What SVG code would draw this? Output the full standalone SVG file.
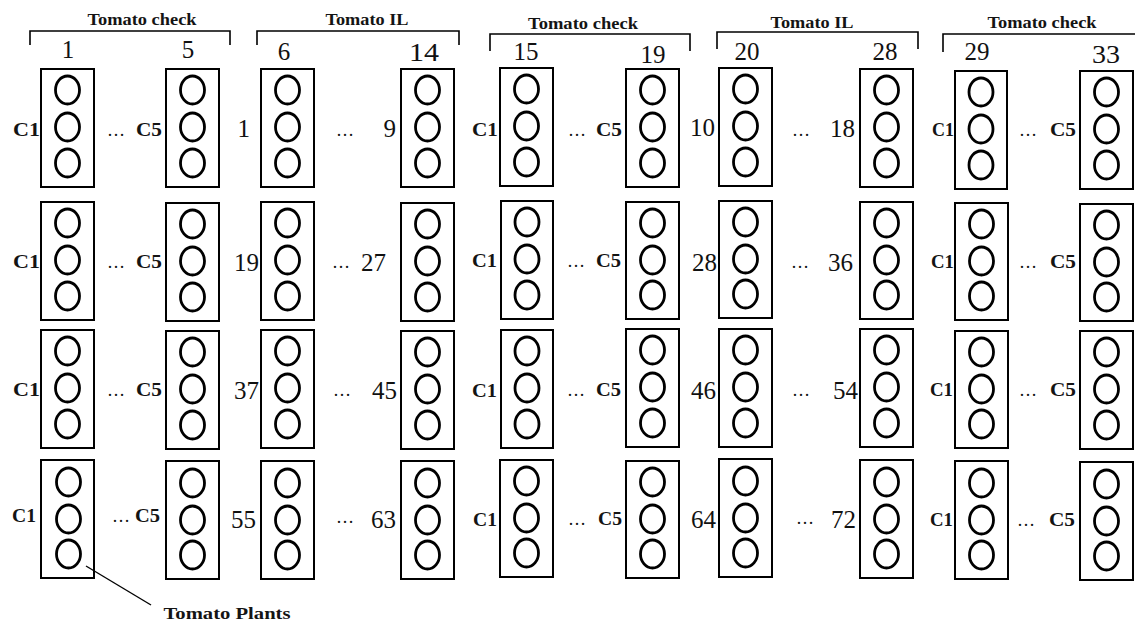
<svg xmlns="http://www.w3.org/2000/svg" width="1135" height="621" viewBox="0 0 1135 621">
<style>
.box{fill:none;stroke:#000;stroke-width:2}
.pl{fill:none;stroke:#000;stroke-width:2.8}
.br{fill:none;stroke:#000;stroke-width:1.6}
.ld{fill:none;stroke:#000;stroke-width:1.4}
.hd{font-family:"Liberation Serif","Times New Roman",serif;font-weight:bold;font-size:16px;fill:#141414;text-anchor:middle}
.hn{font-family:"Liberation Serif","Times New Roman",serif;font-size:25px;fill:#111;text-anchor:middle}
.cl{font-family:"Liberation Serif","Times New Roman",serif;font-weight:bold;font-size:18px;fill:#141414;text-anchor:end}
.rn{font-family:"Liberation Serif","Times New Roman",serif;font-size:25px;fill:#111;text-anchor:end}
.dt{font-family:"Liberation Serif","Times New Roman",serif;font-size:18px;fill:#111;text-anchor:middle}
</style>
<rect width="1135" height="621" fill="#fff"/>
<g id="headers">
<path class="br" d="M30,45V31H230V45"/>
<path class="br" d="M257,45V31H459V45"/>
<path class="br" d="M490,51V34H690V51"/>
<path class="br" d="M717,49V32H918V49"/>
<path class="br" d="M943,52V34H1135"/>
<text class="hd" x="142" y="25" textLength="109" lengthAdjust="spacingAndGlyphs">Tomato check</text>
<text class="hd" x="367" y="25" textLength="83" lengthAdjust="spacingAndGlyphs">Tomato IL</text>
<text class="hd" x="583" y="29" textLength="110" lengthAdjust="spacingAndGlyphs">Tomato check</text>
<text class="hd" x="812" y="28" textLength="83" lengthAdjust="spacingAndGlyphs">Tomato IL</text>
<text class="hd" x="1042" y="28" textLength="109" lengthAdjust="spacingAndGlyphs">Tomato check</text>
<text class="hn" x="68" y="58">1</text>
<text class="hn" x="188" y="58">5</text>
<text class="hn" x="284" y="60">6</text>
<text class="hn" x="424" y="61" textLength="30" lengthAdjust="spacingAndGlyphs">14</text>
<text class="hn" x="526" y="60">15</text>
<text class="hn" x="653" y="63">19</text>
<text class="hn" x="747" y="60">20</text>
<text class="hn" x="885" y="60">28</text>
<text class="hn" x="977" y="60">29</text>
<text class="hn" x="1106" y="63" textLength="28" lengthAdjust="spacingAndGlyphs">33</text>
</g>
<g id="row-labels">
<!-- row 1 -->
<text class="cl" x="40" y="136" textLength="27" lengthAdjust="spacingAndGlyphs">C1</text>
<text class="dt" x="116" y="136">…</text>
<text class="cl" x="162" y="136" textLength="26" lengthAdjust="spacingAndGlyphs">C5</text>
<text class="rn" x="250" y="137">1</text>
<text class="dt" x="345" y="136">…</text>
<text class="rn" x="396" y="137">9</text>
<text class="cl" x="498" y="136" textLength="26" lengthAdjust="spacingAndGlyphs">C1</text>
<text class="dt" x="577" y="136">…</text>
<text class="cl" x="622" y="136" textLength="26" lengthAdjust="spacingAndGlyphs">C5</text>
<text class="rn" x="715" y="136">10</text>
<text class="dt" x="801" y="136">…</text>
<text class="rn" x="855" y="137">18</text>
<text class="cl" x="954" y="136" textLength="22" lengthAdjust="spacingAndGlyphs">C1</text>
<text class="dt" x="1028" y="136">…</text>
<text class="cl" x="1076" y="136" textLength="26" lengthAdjust="spacingAndGlyphs">C5</text>
<!-- row 2 -->
<text class="cl" x="40" y="268" textLength="27" lengthAdjust="spacingAndGlyphs">C1</text>
<text class="dt" x="116" y="268">…</text>
<text class="cl" x="162" y="268" textLength="26" lengthAdjust="spacingAndGlyphs">C5</text>
<text class="rn" x="259" y="271">19</text>
<text class="dt" x="341" y="268">…</text>
<text class="rn" x="386" y="271">27</text>
<text class="cl" x="497" y="267" textLength="25" lengthAdjust="spacingAndGlyphs">C1</text>
<text class="dt" x="576" y="267">…</text>
<text class="cl" x="621" y="267" textLength="25" lengthAdjust="spacingAndGlyphs">C5</text>
<text class="rn" x="717" y="271">28</text>
<text class="dt" x="800" y="268">…</text>
<text class="rn" x="853" y="271">36</text>
<text class="cl" x="954" y="268" textLength="23" lengthAdjust="spacingAndGlyphs">C1</text>
<text class="dt" x="1028" y="268">…</text>
<text class="cl" x="1076" y="268" textLength="26" lengthAdjust="spacingAndGlyphs">C5</text>
<!-- row 3 -->
<text class="cl" x="40" y="396" textLength="27" lengthAdjust="spacingAndGlyphs">C1</text>
<text class="dt" x="116" y="396">…</text>
<text class="cl" x="162" y="396" textLength="26" lengthAdjust="spacingAndGlyphs">C5</text>
<text class="rn" x="259" y="399">37</text>
<text class="dt" x="342" y="396">…</text>
<text class="rn" x="397" y="399">45</text>
<text class="cl" x="497" y="397" textLength="25" lengthAdjust="spacingAndGlyphs">C1</text>
<text class="dt" x="576" y="396">…</text>
<text class="cl" x="621" y="396" textLength="25" lengthAdjust="spacingAndGlyphs">C5</text>
<text class="rn" x="716" y="399">46</text>
<text class="dt" x="801" y="396">…</text>
<text class="rn" x="858" y="399">54</text>
<text class="cl" x="953" y="396" textLength="23" lengthAdjust="spacingAndGlyphs">C1</text>
<text class="dt" x="1028" y="396">…</text>
<text class="cl" x="1076" y="396" textLength="26" lengthAdjust="spacingAndGlyphs">C5</text>
<!-- row 4 -->
<text class="cl" x="36" y="522" textLength="24" lengthAdjust="spacingAndGlyphs">C1</text>
<text class="dt" x="121" y="522">…</text>
<text class="cl" x="160" y="522" textLength="25" lengthAdjust="spacingAndGlyphs">C5</text>
<text class="rn" x="256" y="528">55</text>
<text class="dt" x="345" y="523">…</text>
<text class="rn" x="396" y="528">63</text>
<text class="cl" x="497" y="526" textLength="24" lengthAdjust="spacingAndGlyphs">C1</text>
<text class="dt" x="577" y="525">…</text>
<text class="cl" x="622" y="525" textLength="24" lengthAdjust="spacingAndGlyphs">C5</text>
<text class="rn" x="716" y="528">64</text>
<text class="dt" x="805" y="524">…</text>
<text class="rn" x="856" y="528">72</text>
<text class="cl" x="953" y="526" textLength="23" lengthAdjust="spacingAndGlyphs">C1</text>
<text class="dt" x="1026" y="526">…</text>
<text class="cl" x="1075" y="526" textLength="26" lengthAdjust="spacingAndGlyphs">C5</text>
</g>
<g id="connectors">
<line class="ld" x1="86" y1="566" x2="151" y2="605"/>
</g>
<g id="callout">
<text class="hd" x="227" y="619" textLength="127" lengthAdjust="spacingAndGlyphs">Tomato Plants</text>
</g>
<g id="box-r1c1"><rect class="box" x="41" y="69" width="53" height="118"/><ellipse class="pl" cx="67.5" cy="90" rx="12" ry="14"/><ellipse class="pl" cx="67.5" cy="127" rx="12" ry="14"/><ellipse class="pl" cx="67.5" cy="163" rx="12" ry="14"/></g>
<g id="box-r1c2"><rect class="box" x="166" y="69" width="53" height="118"/><ellipse class="pl" cx="192.5" cy="90" rx="12" ry="14"/><ellipse class="pl" cx="192.5" cy="127" rx="12" ry="14"/><ellipse class="pl" cx="192.5" cy="163" rx="12" ry="14"/></g>
<g id="box-r1c3"><rect class="box" x="261" y="69" width="53" height="118"/><ellipse class="pl" cx="287.5" cy="90" rx="12" ry="14"/><ellipse class="pl" cx="287.5" cy="127" rx="12" ry="14"/><ellipse class="pl" cx="287.5" cy="163" rx="12" ry="14"/></g>
<g id="box-r1c4"><rect class="box" x="401" y="69" width="53" height="118"/><ellipse class="pl" cx="427.5" cy="90" rx="12" ry="14"/><ellipse class="pl" cx="427.5" cy="127" rx="12" ry="14"/><ellipse class="pl" cx="427.5" cy="163" rx="12" ry="14"/></g>
<g id="box-r1c5"><rect class="box" x="500" y="68" width="53" height="118"/><ellipse class="pl" cx="526.5" cy="89" rx="12" ry="14"/><ellipse class="pl" cx="526.5" cy="126" rx="12" ry="14"/><ellipse class="pl" cx="526.5" cy="162" rx="12" ry="14"/></g>
<g id="box-r1c6"><rect class="box" x="626" y="69" width="53" height="118"/><ellipse class="pl" cx="652.5" cy="90" rx="12" ry="14"/><ellipse class="pl" cx="652.5" cy="127" rx="12" ry="14"/><ellipse class="pl" cx="652.5" cy="163" rx="12" ry="14"/></g>
<g id="box-r1c7"><rect class="box" x="719" y="68" width="53" height="118"/><ellipse class="pl" cx="745.5" cy="89" rx="12" ry="14"/><ellipse class="pl" cx="745.5" cy="126" rx="12" ry="14"/><ellipse class="pl" cx="745.5" cy="162" rx="12" ry="14"/></g>
<g id="box-r1c8"><rect class="box" x="860" y="69" width="53" height="118"/><ellipse class="pl" cx="886.5" cy="90" rx="12" ry="14"/><ellipse class="pl" cx="886.5" cy="127" rx="12" ry="14"/><ellipse class="pl" cx="886.5" cy="163" rx="12" ry="14"/></g>
<g id="box-r1c9"><rect class="box" x="955" y="71" width="52" height="118"/><ellipse class="pl" cx="981" cy="92" rx="12" ry="14"/><ellipse class="pl" cx="981" cy="129" rx="12" ry="14"/><ellipse class="pl" cx="981" cy="165" rx="12" ry="14"/></g>
<g id="box-r1c10"><rect class="box" x="1080" y="71" width="53" height="118"/><ellipse class="pl" cx="1106.5" cy="92" rx="12" ry="14"/><ellipse class="pl" cx="1106.5" cy="129" rx="12" ry="14"/><ellipse class="pl" cx="1106.5" cy="165" rx="12" ry="14"/></g>
<g id="box-r2c1"><rect class="box" x="41" y="202" width="53" height="118"/><ellipse class="pl" cx="67.5" cy="223" rx="12" ry="14"/><ellipse class="pl" cx="67.5" cy="260" rx="12" ry="14"/><ellipse class="pl" cx="67.5" cy="296" rx="12" ry="14"/></g>
<g id="box-r2c2"><rect class="box" x="166" y="203" width="53" height="118"/><ellipse class="pl" cx="192.5" cy="224" rx="12" ry="14"/><ellipse class="pl" cx="192.5" cy="261" rx="12" ry="14"/><ellipse class="pl" cx="192.5" cy="297" rx="12" ry="14"/></g>
<g id="box-r2c3"><rect class="box" x="261" y="202" width="53" height="118"/><ellipse class="pl" cx="287.5" cy="223" rx="12" ry="14"/><ellipse class="pl" cx="287.5" cy="260" rx="12" ry="14"/><ellipse class="pl" cx="287.5" cy="296" rx="12" ry="14"/></g>
<g id="box-r2c4"><rect class="box" x="401" y="203" width="53" height="118"/><ellipse class="pl" cx="427.5" cy="224" rx="12" ry="14"/><ellipse class="pl" cx="427.5" cy="261" rx="12" ry="14"/><ellipse class="pl" cx="427.5" cy="297" rx="12" ry="14"/></g>
<g id="box-r2c5"><rect class="box" x="501" y="201" width="52" height="118"/><ellipse class="pl" cx="527" cy="222" rx="12" ry="14"/><ellipse class="pl" cx="527" cy="259" rx="12" ry="14"/><ellipse class="pl" cx="527" cy="295" rx="12" ry="14"/></g>
<g id="box-r2c6"><rect class="box" x="626" y="202" width="53" height="117"/><ellipse class="pl" cx="652.5" cy="223" rx="12" ry="14"/><ellipse class="pl" cx="652.5" cy="260" rx="12" ry="14"/><ellipse class="pl" cx="652.5" cy="295" rx="12" ry="14"/></g>
<g id="box-r2c7"><rect class="box" x="719" y="201" width="53" height="117"/><ellipse class="pl" cx="745.5" cy="222" rx="12" ry="14"/><ellipse class="pl" cx="745.5" cy="259" rx="12" ry="14"/><ellipse class="pl" cx="745.5" cy="294" rx="12" ry="14"/></g>
<g id="box-r2c8"><rect class="box" x="860" y="202" width="53" height="117"/><ellipse class="pl" cx="886.5" cy="223" rx="12" ry="14"/><ellipse class="pl" cx="886.5" cy="260" rx="12" ry="14"/><ellipse class="pl" cx="886.5" cy="295" rx="12" ry="14"/></g>
<g id="box-r2c9"><rect class="box" x="955" y="203" width="53" height="117"/><ellipse class="pl" cx="981.5" cy="224" rx="12" ry="14"/><ellipse class="pl" cx="981.5" cy="261" rx="12" ry="14"/><ellipse class="pl" cx="981.5" cy="296" rx="12" ry="14"/></g>
<g id="box-r2c10"><rect class="box" x="1080" y="204" width="53" height="117"/><ellipse class="pl" cx="1106.5" cy="225" rx="12" ry="14"/><ellipse class="pl" cx="1106.5" cy="262" rx="12" ry="14"/><ellipse class="pl" cx="1106.5" cy="297" rx="12" ry="14"/></g>
<g id="box-r3c1"><rect class="box" x="41" y="330" width="53" height="118"/><ellipse class="pl" cx="67.5" cy="351" rx="12" ry="14"/><ellipse class="pl" cx="67.5" cy="388" rx="12" ry="14"/><ellipse class="pl" cx="67.5" cy="424" rx="12" ry="14"/></g>
<g id="box-r3c2"><rect class="box" x="166" y="331" width="53" height="118"/><ellipse class="pl" cx="192.5" cy="352" rx="12" ry="14"/><ellipse class="pl" cx="192.5" cy="389" rx="12" ry="14"/><ellipse class="pl" cx="192.5" cy="425" rx="12" ry="14"/></g>
<g id="box-r3c3"><rect class="box" x="261" y="330" width="53" height="118"/><ellipse class="pl" cx="287.5" cy="351" rx="12" ry="14"/><ellipse class="pl" cx="287.5" cy="388" rx="12" ry="14"/><ellipse class="pl" cx="287.5" cy="424" rx="12" ry="14"/></g>
<g id="box-r3c4"><rect class="box" x="401" y="331" width="53" height="118"/><ellipse class="pl" cx="427.5" cy="352" rx="12" ry="14"/><ellipse class="pl" cx="427.5" cy="389" rx="12" ry="14"/><ellipse class="pl" cx="427.5" cy="425" rx="12" ry="14"/></g>
<g id="box-r3c5"><rect class="box" x="501" y="330" width="52" height="118"/><ellipse class="pl" cx="527" cy="351" rx="12" ry="14"/><ellipse class="pl" cx="527" cy="388" rx="12" ry="14"/><ellipse class="pl" cx="527" cy="424" rx="12" ry="14"/></g>
<g id="box-r3c6"><rect class="box" x="626" y="329" width="53" height="118"/><ellipse class="pl" cx="652.5" cy="350" rx="12" ry="14"/><ellipse class="pl" cx="652.5" cy="387" rx="12" ry="14"/><ellipse class="pl" cx="652.5" cy="423" rx="12" ry="14"/></g>
<g id="box-r3c7"><rect class="box" x="719" y="329" width="53" height="118"/><ellipse class="pl" cx="745.5" cy="350" rx="12" ry="14"/><ellipse class="pl" cx="745.5" cy="387" rx="12" ry="14"/><ellipse class="pl" cx="745.5" cy="423" rx="12" ry="14"/></g>
<g id="box-r3c8"><rect class="box" x="860" y="329" width="53" height="118"/><ellipse class="pl" cx="886.5" cy="350" rx="12" ry="14"/><ellipse class="pl" cx="886.5" cy="387" rx="12" ry="14"/><ellipse class="pl" cx="886.5" cy="423" rx="12" ry="14"/></g>
<g id="box-r3c9"><rect class="box" x="955" y="331" width="53" height="117"/><ellipse class="pl" cx="981.5" cy="352" rx="12" ry="14"/><ellipse class="pl" cx="981.5" cy="389" rx="12" ry="14"/><ellipse class="pl" cx="981.5" cy="424" rx="12" ry="14"/></g>
<g id="box-r3c10"><rect class="box" x="1080" y="331" width="53" height="118"/><ellipse class="pl" cx="1106.5" cy="352" rx="12" ry="14"/><ellipse class="pl" cx="1106.5" cy="389" rx="12" ry="14"/><ellipse class="pl" cx="1106.5" cy="425" rx="12" ry="14"/></g>
<g id="box-r4c1"><rect class="box" x="41" y="460" width="53" height="118"/><ellipse class="pl" cx="68.5" cy="482" rx="12" ry="14"/><ellipse class="pl" cx="68.5" cy="519" rx="12" ry="14"/><ellipse class="pl" cx="68.5" cy="554" rx="12" ry="14"/></g>
<g id="box-r4c2"><rect class="box" x="166" y="461" width="53" height="118"/><ellipse class="pl" cx="192.5" cy="483" rx="12" ry="14"/><ellipse class="pl" cx="192.5" cy="520" rx="12" ry="14"/><ellipse class="pl" cx="192.5" cy="555" rx="12" ry="14"/></g>
<g id="box-r4c3"><rect class="box" x="261" y="461" width="53" height="118"/><ellipse class="pl" cx="287.5" cy="483" rx="12" ry="14"/><ellipse class="pl" cx="287.5" cy="520" rx="12" ry="14"/><ellipse class="pl" cx="287.5" cy="555" rx="12" ry="14"/></g>
<g id="box-r4c4"><rect class="box" x="401" y="461" width="53" height="118"/><ellipse class="pl" cx="427.5" cy="483" rx="12" ry="14"/><ellipse class="pl" cx="427.5" cy="520" rx="12" ry="14"/><ellipse class="pl" cx="427.5" cy="555" rx="12" ry="14"/></g>
<g id="box-r4c5"><rect class="box" x="500" y="460" width="53" height="117"/><ellipse class="pl" cx="526.5" cy="481" rx="12" ry="14"/><ellipse class="pl" cx="526.5" cy="518" rx="12" ry="14"/><ellipse class="pl" cx="526.5" cy="553" rx="12" ry="14"/></g>
<g id="box-r4c6"><rect class="box" x="626" y="461" width="53" height="117"/><ellipse class="pl" cx="652.5" cy="482" rx="12" ry="14"/><ellipse class="pl" cx="652.5" cy="519" rx="12" ry="14"/><ellipse class="pl" cx="652.5" cy="554" rx="12" ry="14"/></g>
<g id="box-r4c7"><rect class="box" x="719" y="459" width="53" height="118"/><ellipse class="pl" cx="745.5" cy="481" rx="12" ry="14"/><ellipse class="pl" cx="745.5" cy="518" rx="12" ry="14"/><ellipse class="pl" cx="745.5" cy="553" rx="12" ry="14"/></g>
<g id="box-r4c8"><rect class="box" x="860" y="460" width="53" height="118"/><ellipse class="pl" cx="886.5" cy="482" rx="12" ry="14"/><ellipse class="pl" cx="886.5" cy="519" rx="12" ry="14"/><ellipse class="pl" cx="886.5" cy="554" rx="12" ry="14"/></g>
<g id="box-r4c9"><rect class="box" x="955" y="461" width="53" height="118"/><ellipse class="pl" cx="981.5" cy="483" rx="12" ry="14"/><ellipse class="pl" cx="981.5" cy="520" rx="12" ry="14"/><ellipse class="pl" cx="981.5" cy="555" rx="12" ry="14"/></g>
<g id="box-r4c10"><rect class="box" x="1080" y="462" width="53" height="118"/><ellipse class="pl" cx="1106.5" cy="484" rx="12" ry="14"/><ellipse class="pl" cx="1106.5" cy="521" rx="12" ry="14"/><ellipse class="pl" cx="1106.5" cy="556" rx="12" ry="14"/></g>
</svg>
